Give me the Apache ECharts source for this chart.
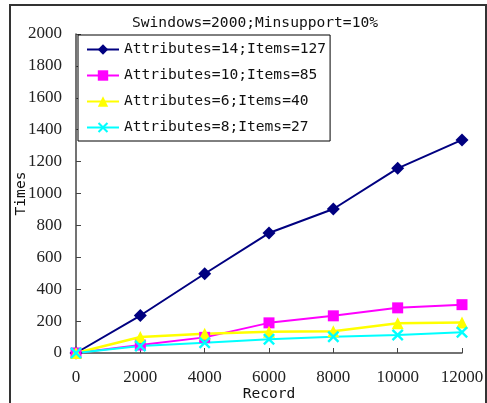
<!DOCTYPE html>
<html>
<head>
<meta charset="utf-8">
<script src="https://cdn.jsdelivr.net/npm/echarts@6/dist/echarts.min.js"></script>
<style>html,body{margin:0;padding:0;background:#fff;}#c{width:487px;height:403px;}</style>
</head>
<body>
<div id="c"></div>
<script>
const titleText = 'Swindows=2000;Minsupport=10%';
const records = [0, 2000, 4000, 6000, 8000, 10000, 12000];
const seriesNames = ['Attributes=14;Items=127', 'Attributes=10;Items=85', 'Attributes=6;Items=40', 'Attributes=8;Items=27'];
const s14 = [0, 235, 497, 752, 903, 1158, 1336];
const s10 = [0, 50, 98, 189, 233, 283, 303];
const s6 = [0, 100, 120, 134, 137, 186, 192];
const s8 = [0, 44, 64, 86, 102, 113, 130];
const yTicks = {min: 0, max: 2000, interval: 200};
const xTicks = {min: 0, max: 12000, interval: 2000};

const mono = 'DejaVu Sans Mono';
const serif = 'Liberation Serif';
const xPath = 'path://M0,1.4 L1.4,0 L5,3.6 L8.6,0 L10,1.4 L6.4,5 L10,8.6 L8.6,10 L5,6.4 L1.4,10 L0,8.6 L3.6,5 Z';

function mk(name, vals, color, symbol, size, lw) {
  return {
    name: name, type: 'line',
    data: records.map((r, i) => [r, vals[i]]),
    symbol: symbol, symbolSize: size,
    itemStyle: {color: color},
    lineStyle: {color: color, width: lw},
    animation: false
  };
}

const chart = echarts.init(document.getElementById('c'));
chart.setOption({
  backgroundColor: '#fff',
  animation: false,
  title: {
    text: titleText, left: 250, top: 11, textAlign: 'center',
    textStyle: {fontFamily: mono, fontSize: 14.6, fontWeight: 'normal', color: '#111'}
  },
  grid: {left: 76, right: 25, top: 34, bottom: 50, containLabel: false, outerBoundsMode: 'none'},
  legend: {
    orient: 'vertical', left: 78, top: 35,
    backgroundColor: '#fff', borderColor: '#000', borderWidth: 1,
    padding: [7, 4, 6, 8], itemWidth: 32, itemHeight: 13, itemGap: 11,
    textStyle: {fontFamily: mono, fontSize: 14.6, color: '#111'},
    data: seriesNames, z: 10
  },
  xAxis: {
    type: 'value', min: xTicks.min, max: xTicks.max, interval: xTicks.interval,
    name: 'Record', nameLocation: 'middle', nameGap: 34, nameMoveOverlap: false,
    nameTextStyle: {fontFamily: mono, fontSize: 14.6, color: '#111'},
    axisLine: {show: true, lineStyle: {color: '#444', width: 1.5}},
    axisTick: {show: true, inside: true, length: 5, lineStyle: {color: '#444'}},
    axisLabel: {fontFamily: serif, fontSize: 17, color: '#222', margin: 16, formatter: v => String(v)},
    splitLine: {show: false}
  },
  yAxis: {
    type: 'value', min: yTicks.min, max: yTicks.max, interval: yTicks.interval,
    name: 'Times', nameLocation: 'middle', nameGap: 47, nameRotate: 90, nameMoveOverlap: false,
    nameTextStyle: {fontFamily: mono, fontSize: 14.6, color: '#111'},
    axisLine: {show: true, lineStyle: {color: '#444', width: 1.5}},
    axisTick: {show: true, inside: true, length: 5, lineStyle: {color: '#444'}},
    axisLabel: {fontFamily: serif, fontSize: 17, color: '#222', margin: 14, formatter: v => String(v)},
    splitLine: {show: false}
  },
  graphic: [{
    type: 'rect', shape: {x: 10, y: 5, width: 476, height: 410},
    style: {fill: 'none', stroke: '#333', lineWidth: 2}, silent: true, z: 100
  }],
  series: [
    mk(seriesNames[0], s14, '#000080', 'diamond', 13, 2),
    mk(seriesNames[1], s10, '#ff00ff', 'rect', 11, 2),
    mk(seriesNames[2], s6, '#ffff00', 'triangle', 12, 2.5),
    mk(seriesNames[3], s8, '#00ffff', xPath, 12, 2)
  ]
});
</script>
</body>
</html>
